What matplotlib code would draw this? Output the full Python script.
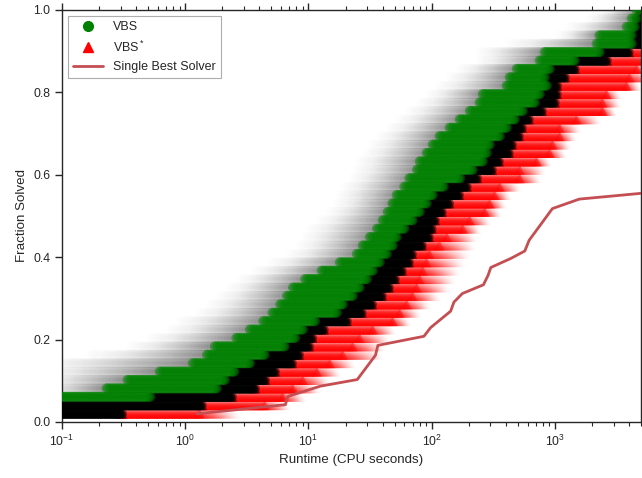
import numpy as np
import matplotlib
matplotlib.use('Agg')
import matplotlib.pyplot as plt
import seaborn as sns
from matplotlib.lines import Line2D

sns.set_style('ticks')
sns.set_context('paper')
plt.rcParams['font.family'] = ['Liberation Sans', 'DejaVu Sans']
plt.rcParams['mathtext.default'] = 'regular'

# fraction-solved levels (one row of markers per level)
levels = np.arange(1, 50) / 49.0

# per level: runtimes (s) where each band of the bootstrap cloud starts / ends
gray_start = [0.06, 0.06, 0.06, 0.06, 0.06, 0.06, 0.06, 0.17, 0.36, 0.52, 0.75, 0.91, 1.3, 1.6,
              1.9, 2.3, 2.8, 3.7, 5.1, 7.1, 8.5, 9.4, 10.3, 12.4, 14.9, 17, 18, 19.7, 22.9, 24.7,
              26, 29.8, 33, 38, 46, 55, 66, 80, 96, 116, 140, 169, 245, 245, 430, 1090, 1320,
              1900, 2300]
green_start = [0.06, 0.06, 0.06, 0.23, 0.34, 0.62, 1.15, 1.5, 1.74, 2.6, 3.35, 4.3, 5.1, 5.9,
               6.7, 7.5, 9.4, 12.8, 18, 24.7, 27.6, 31.5, 36, 40, 44, 48, 52, 60, 66, 76, 80,
               91, 102, 116, 140, 169, 204, 245, 260, 406, 430, 490, 753, 826, 2180, 2300,
               3820, 4200, 4600]
black_start = [0.073, 0.08, 0.52, 1.8, 2.1, 2.5, 3.35, 4.4, 6.4, 7.8, 9.0, 11.3, 17, 19, 22.9,
               26, 29.8, 33.3, 37.9, 43.2, 48.3, 52, 60, 70, 80, 91, 102, 125, 170, 215, 260,
               280, 296, 357, 406, 472, 548, 686, 753, 858, 826, 907, 1446, 2308, 4195, 4195,
               4440, 4605, 4867]
red_start = [0.295, 1.31, 2.3, 3.54, 4.27, 5.14, 7.06, 8.05, 9.7, 10.3, 12.8, 19.7, 26, 31.5,
             37.9, 43.2, 48.3, 55, 62.8, 66.4, 80, 91, 96, 102, 116, 133, 160, 185, 224, 296,
             337, 406, 430, 490, 518, 590, 753, 959, 995, 1000, 1157, 1394, 2535, 3822, 4867,
             4867, 4867, 4867, 4867]
red_end = [1.31, 4.43, 6.2, 7.47, 9.0, 11.7, 14.9, 19, 22.9, 26, 33.3, 48.3, 55, 62.8, 70,
           75.7, 80, 84.7, 91, 96, 116, 133, 179, 204, 270, 296, 325, 357, 518, 518, 712, 907,
           959, 1093, 1093, 1500, 2440, 2440, 2630, 3820, 4040, 4600, 6000, 6000, 6000, 6000,
           6000, 6000, 6000]
fade_end = [2.78, 7.06, 9.35, 12.4, 14.9, 18, 23.8, 40, 41.7, 45.7, 50, 66, 80, 96, 116, 140,
            154, 169, 185, 204, 224, 232, 245, 296, 357, 392, 430, 518, 753, 826, 907, 1200,
            1318, 1446, 1588, 2308, 3055, 3352, 3352, 4867, 7000, 7000, 7000, 7000, 7000,
            7000, 7000, 7000, 7000]

# single best solver curve
sbs_time = [1.25, 6.5, 6.8, 12.5, 24.9, 35, 36.6, 86.5, 98, 142.6, 151.6, 177.8, 263, 287,
            302, 439, 570, 618, 955, 1578, 5000]
sbs_frac = [0.020, 0.042, 0.062, 0.087, 0.103, 0.162, 0.186, 0.208, 0.229, 0.269, 0.291,
            0.312, 0.333, 0.356, 0.375, 0.397, 0.415, 0.441, 0.518, 0.541, 0.555]


def band(lo, hi, step=0.012):
    lo, hi = np.log10(lo), np.log10(hi)
    if hi <= lo:
        return np.array([])
    n = max(int((hi - lo) / step), 1)
    return np.logspace(lo, hi, n + 1)


layers = {'gray': ([], [], []), 'red': ([], [], []), 'black': ([], [], []), 'green': ([], [], [])}


def add(name, xs, y, rgb, alphas):
    X, Y, C = layers[name]
    for x, a in zip(xs, alphas):
        X.append(x)
        Y.append(y)
        C.append(rgb + (a,))


for i, y in enumerate(levels):
    xs = band(gray_start[i], green_start[i])
    t = np.linspace(0, 1, len(xs))
    add('gray', xs, y, (0, 0, 0), 0.004 + 0.085 * t ** 1.8)
    xs = band(green_start[i], black_start[i])
    add('green', xs, y, (0, 0.5, 0), np.full(len(xs), 0.45))
    xs = band(black_start[i], red_start[i] * 1.05)
    add('black', xs, y, (0, 0, 0), np.full(len(xs), 0.45))
    xs = band(red_start[i], red_end[i])
    add('red', xs, y, (1, 0, 0), np.full(len(xs), 0.45))
    xs = band(red_end[i], fade_end[i])
    t = np.linspace(0, 1, len(xs))
    add('red', xs, y, (1, 0, 0), 0.3 * (1 - t) ** 1.5)

fig = plt.figure(figsize=(6.42, 4.78), dpi=100)
ax = fig.add_axes([62 / 642, 56 / 478, 579 / 642, 412 / 478])

ms = 52
X, Y, C = layers['gray']
ax.scatter(X, Y, s=ms, c=C, marker='o', linewidths=0, zorder=1)
X, Y, C = layers['red']
ax.scatter(X, Y, s=ms, c=C, marker='^', linewidths=0, zorder=2)
X, Y, C = layers['black']
ax.scatter(X, Y, s=ms, c=C, marker='^', linewidths=0, zorder=3)
ax.scatter(X, Y, s=ms * 0.8, c=C, marker='o', linewidths=0, zorder=3)
X, Y, C = layers['green']
ax.scatter(X, Y, s=ms, c=C, marker='o', linewidths=0, zorder=4)

ax.plot(sbs_time, sbs_frac, color='#c44e52', lw=2.0, zorder=5)

ax.set_xscale('log')
ax.set_xlim(0.1, 5000)
ax.set_ylim(0, 1.0)
ax.set_yticks([0.0, 0.2, 0.4, 0.6, 0.8, 1.0])
ax.set_xlabel('Runtime (CPU seconds)')
ax.set_ylabel('Fraction Solved')
ax.tick_params(which='both', top=True, right=True, direction='out')

handles = [Line2D([], [], marker='o', color='green', ls='none', markersize=7),
           Line2D([], [], marker='^', color='red', ls='none', markersize=7),
           Line2D([], [], color='#c44e52', lw=2.0)]
leg = ax.legend(handles, ['VBS', 'VBS$^*$', 'Single Best Solver'], loc='upper left',
                frameon=True, fancybox=False, borderaxespad=0.5, fontsize=9.0,
                handlelength=2.4)
leg.get_frame().set_edgecolor('0.6')
leg.get_frame().set_linewidth(0.8)

plt.savefig('out.png', dpi=100)
